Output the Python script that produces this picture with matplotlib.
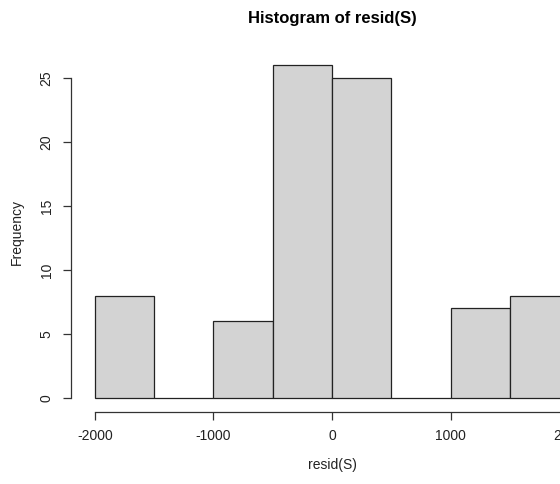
import numpy as np
import matplotlib
matplotlib.use("Agg")
import matplotlib.pyplot as plt

plt.rcParams['font.family'] = ['Liberation Sans', 'DejaVu Sans']
plt.rcParams['axes.unicode_minus'] = False

# histogram of resid(S): bin edges and counts
bin_edges = [-2000, -1500, -1000, -500, 0, 500, 1000, 1500, 2000]
counts = [8, 0, 6, 26, 25, 0, 7, 8]
x_ticks = [-2000, -1000, 0, 1000, 2000]
y_ticks = [0, 5, 10, 15, 20, 25]

W, H = 560, 484
fig = plt.figure(figsize=(W / 100, H / 100), dpi=100)

# plot region in pixels (R style, axis lines on the region edge)
left, right, top, bottom = 71, 593, 52, 412
ax = fig.add_axes([left / W, 1 - bottom / H, (right - left) / W, (bottom - top) / H])
ax.set_xlim(-2202, 2202)
ax.set_ylim(-1.094, 27.03)

edges = np.array(bin_edges)
ax.bar(edges[:-1], counts, width=np.diff(edges), align='edge',
       facecolor='#d3d3d3', edgecolor='#222222', linewidth=0.9)

for s in ['top', 'right']:
    ax.spines[s].set_visible(False)
ax.spines['left'].set_bounds(0, 25)
ax.spines['bottom'].set_bounds(-2000, 2000)
for s in ['left', 'bottom']:
    ax.spines[s].set_color('#333333')
    ax.spines[s].set_linewidth(0.9)

ax.set_xticks(x_ticks)
ax.set_yticks(y_ticks)
ax.set_yticklabels([str(v) for v in y_ticks], rotation=90, va='center')
ax.tick_params(direction='out', length=5.5, width=0.9, color='#333333',
               labelsize=10, labelcolor='#222222', pad=7)

fig.text(332 / W, 1 - 19 / H, 'Histogram of resid(S)', ha='center', va='center',
         fontsize=12, fontweight='bold')
fig.text(332 / W, 1 - 465 / H, 'resid(S)', ha='center', va='center', fontsize=10,
         color='#222222')
fig.text(17 / W, 1 - 232 / H, 'Frequency', ha='center', va='center', fontsize=10,
         rotation=90, color='#222222')

fig.savefig('out.png', dpi=100)
